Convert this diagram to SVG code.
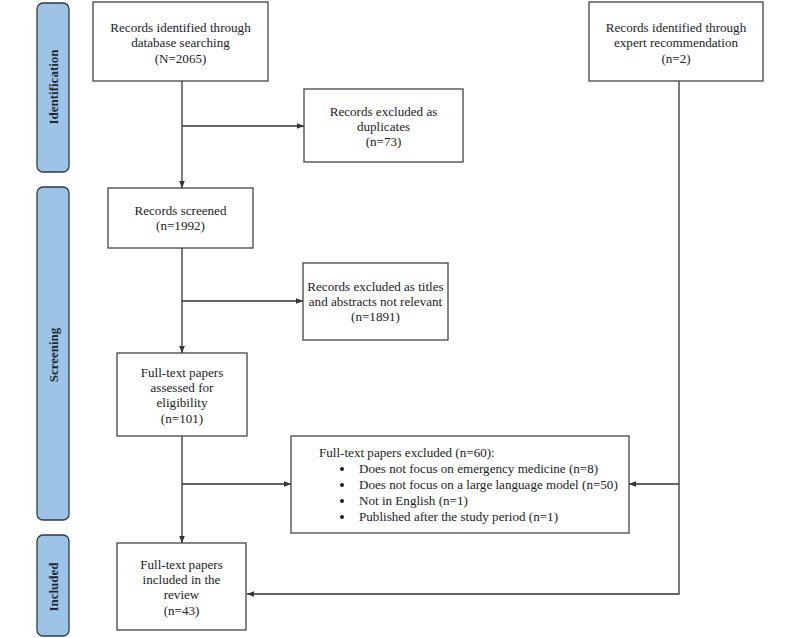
<svg xmlns="http://www.w3.org/2000/svg" width="800" height="638" viewBox="0 0 800 638">
<defs>
<style>
.box{fill:#fff;stroke:#444;stroke-width:1.3}
.side{fill:#9dc3e6;stroke:#2b3a4a;stroke-width:1.3}
.t{font-family:"Liberation Serif","Times New Roman",serif;font-size:13.1px;fill:#222;text-anchor:middle}
.tl{font-family:"Liberation Serif","Times New Roman",serif;font-size:13.1px;fill:#222}
.s{font-family:"Liberation Serif","Times New Roman",serif;font-size:13px;font-weight:bold;fill:#1e2a38;text-anchor:middle}
.c{fill:none;stroke:#333;stroke-width:1.3}
</style>
<marker id="ah" viewBox="0 0 10 10" refX="10" refY="5" markerWidth="7" markerHeight="7" orient="auto-start-reverse" markerUnits="userSpaceOnUse">
<path d="M0,1 L10,5 L0,9 z" fill="#333"/>
</marker>
</defs>
<rect width="800" height="638" fill="#fff"/>

<g id="phase-identification">
<rect class="side" x="37" y="3" width="32" height="169" rx="6"/>
<text class="s" transform="translate(57.5,87) rotate(-90)">Identification</text>
</g>
<g id="phase-screening">
<rect class="side" x="37" y="187" width="32" height="333" rx="6"/>
<text class="s" transform="translate(57.5,355) rotate(-90)">Screening</text>
</g>
<g id="phase-included">
<rect class="side" x="37" y="535" width="32" height="101" rx="6"/>
<text class="s" transform="translate(57.5,587) rotate(-90)">Included</text>
</g>

<g id="connectors">
<path class="c" d="M182,81 V188" marker-end="url(#ah)"/>
<path class="c" d="M182,126 H304" marker-end="url(#ah)"/>
<path class="c" d="M182,248 V353" marker-end="url(#ah)"/>
<path class="c" d="M182,301 H303" marker-end="url(#ah)"/>
<path class="c" d="M182,436 V543" marker-end="url(#ah)"/>
<path class="c" d="M182,484 H291" marker-end="url(#ah)"/>
<path class="c" d="M679,81 V594 H247" marker-end="url(#ah)"/>
<path class="c" d="M679,484 H629" marker-end="url(#ah)"/>
</g>

<g id="n-database">
<rect class="box" x="93" y="2" width="175" height="79"/>
<text class="t" x="180.5" y="32">Records identified through</text>
<text class="t" x="180.5" y="47">database searching</text>
<text class="t" x="180.5" y="63">(N=2065)</text>
</g>
<g id="n-expert">
<rect class="box" x="589" y="2" width="174" height="79"/>
<text class="t" x="676" y="32">Records identified through</text>
<text class="t" x="676" y="47">expert recommendation</text>
<text class="t" x="676" y="63">(n=2)</text>
</g>
<g id="n-duplicates">
<rect class="box" x="304" y="89" width="159" height="73"/>
<text class="t" x="383.5" y="116">Records excluded as</text>
<text class="t" x="383.5" y="131">duplicates</text>
<text class="t" x="383.5" y="146">(n=73)</text>
</g>
<g id="n-screened">
<rect class="box" x="108" y="188" width="145" height="60"/>
<text class="t" x="180.5" y="215">Records screened</text>
<text class="t" x="180.5" y="230">(n=1992)</text>
</g>
<g id="n-titles">
<rect class="box" x="303" y="263" width="145" height="77"/>
<text class="t" x="375.5" y="291">Records excluded as titles</text>
<text class="t" x="375.5" y="306">and abstracts not relevant</text>
<text class="t" x="375.5" y="321">(n=1891)</text>
</g>
<g id="n-assessed">
<rect class="box" x="117" y="353" width="130" height="83"/>
<text class="t" x="182" y="377">Full-text papers</text>
<text class="t" x="182" y="392">assessed for</text>
<text class="t" x="182" y="407">eligibility</text>
<text class="t" x="182" y="423">(n=101)</text>
</g>
<g id="n-fulltext-excluded">
<rect class="box" x="291" y="436" width="338" height="97"/>
<text class="tl" x="319" y="457">Full-text papers excluded (n=60):</text>
<circle cx="342" cy="469" r="2" fill="#222"/>
<text class="tl" x="359" y="473">Does not focus on emergency medicine (n=8)</text>
<circle cx="342" cy="485" r="2" fill="#222"/>
<text class="tl" x="359" y="489">Does not focus on a large language model (n=50)</text>
<circle cx="342" cy="501" r="2" fill="#222"/>
<text class="tl" x="359" y="505">Not in English (n=1)</text>
<circle cx="342" cy="517" r="2" fill="#222"/>
<text class="tl" x="359" y="521">Published after the study period (n=1)</text>
</g>
<g id="n-included">
<rect class="box" x="117" y="543" width="129" height="87"/>
<text class="t" x="181.5" y="569">Full-text papers</text>
<text class="t" x="181.5" y="584">included in the</text>
<text class="t" x="181.5" y="599">review</text>
<text class="t" x="181.5" y="615">(n=43)</text>
</g>
</svg>
